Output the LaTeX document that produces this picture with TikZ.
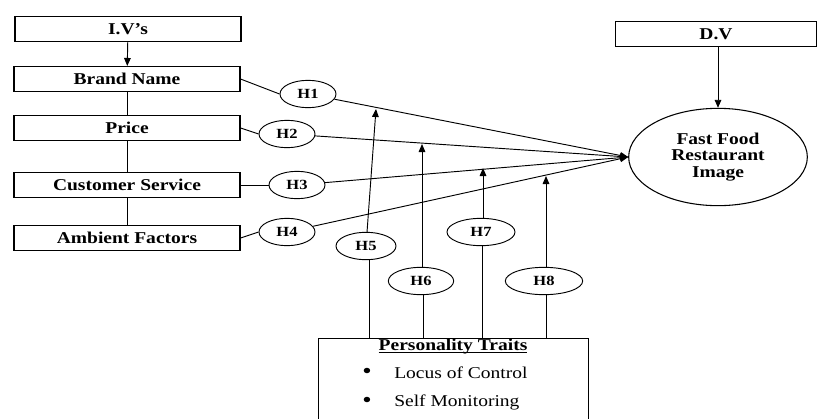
\documentclass[tikz,border=0pt]{standalone}
\usepackage{fontspec}
\setmainfont{Liberation Serif}[FakeStretch=1.18]
\usetikzlibrary{arrows.meta,shapes.geometric}

\begin{document}
\begin{tikzpicture}[
  x=0.75pt, y=-0.75pt,
  var/.style={draw, line width=0.8pt, minimum width=169.5pt,
              minimum height=18.75pt, inner sep=0pt,
              font=\fontsize{12.4}{13}\selectfont\bfseries},
  hyp/.style={draw, ellipse, line width=0.7pt, minimum width=42pt,
              minimum height=20.5pt, inner sep=0pt,
              font=\fontsize{10.5}{11}\selectfont\bfseries},
  txt/.style={inner sep=0pt, font=\fontsize{12.4}{13}\selectfont},
  link/.style={line width=0.7pt},
  arr/.style={-{Triangle[length=6pt,width=5pt]}, line width=0.7pt}
]
\useasboundingbox (0,0) rectangle (817,418);

% independent variables
\node[var] (iv) at (128,29)  {I.V’s};
\node[var] (bn) at (127,79)  {Brand Name};
\node[var] (pr) at (127,128) {Price};
\node[var] (cs) at (127,185) {Customer Service};
\node[var] (af) at (127,238) {Ambient Factors};

% dependent variable
\node[var, minimum width=151pt] (dv) at (716,34) {D.V};
\node[draw, ellipse, line width=0.8pt, minimum width=134pt,
      minimum height=73pt, inner sep=0pt, align=center,
      font=\fontsize{12.4}{12.4}\selectfont\bfseries]
  (fd) at (718,157) {Fast Food\\Restaurant\\Image};

% moderator
\node[draw, line width=0.8pt, minimum width=203pt, minimum height=75pt,
      anchor=north] (pt) at (453.5,338) {};
\node[txt, font=\fontsize{12.4}{13}\selectfont\bfseries, anchor=base]
  (ptt) at (453,350) {\underline{\smash{Personality Traits}}};
\node[txt, font=\fontsize{17}{17}\selectfont] (b1) at (367,373) {•};
\node[txt, anchor=west] (lc) at (394,373) {Locus of Control};
\node[txt, font=\fontsize{17}{17}\selectfont] (b2) at (367,402) {•};
\node[txt, anchor=west] (sm) at (394,402) {Self Monitoring};

% hypotheses
\node[hyp] (h1) at (308,94)  {H1};
\node[hyp] (h2) at (287,134) {H2};
\node[hyp] (h3) at (297,185) {H3};
\node[hyp] (h4) at (287,232) {H4};
\node[hyp, minimum width=45pt] (h5) at (366,246) {H5};
\node[hyp, minimum width=49pt] (h6) at (421,281) {H6};
\node[hyp, minimum width=51pt] (h7) at (481,232) {H7};
\node[hyp, minimum width=58pt] (h8) at (544,281) {H8};

% where the moderating arrows meet the paths
\coordinate (t5) at (376,109);
\coordinate (t6) at (422,144);
\coordinate (t7) at (483,168);
\coordinate (t8) at (546,176);

\draw[arr] (iv) -- (bn);
\draw[link] (bn) -- (pr);
\draw[link] (pr) -- (cs);
\draw[link] (cs) -- (af);
\draw[arr] (fd.north |- dv.south) -- (fd.north);

\draw[link] (bn.east) -- (h1.west);
\draw[link] (pr.east) -- (h2.west);
\draw[link] (cs.east) -- (h3.west);
\draw[link] (af.east) -- (h4.west);
\draw[arr] (h1) -- (fd.west);
\draw[arr] (h2) -- (fd.west);
\draw[arr] (h3) -- (fd.west);
\draw[arr] (h4) -- (fd.west);

\draw[link] (h5.south -| 369,0) |- (pt.north);
\draw[link] (h6.south -| 423,0) |- (pt.north);
\draw[link] (h7.south -| 482,0) |- (pt.north);
\draw[link] (h8.south -| 546,0) |- (pt.north);
\draw[arr] (h5) -- (t5);
\draw[arr] (h6.north -| t6) -- (t6);
\draw[arr] (h7.north -| t7) -- (t7);
\draw[arr] (h8.north -| t8) -- (t8);
\end{tikzpicture}
\end{document}
